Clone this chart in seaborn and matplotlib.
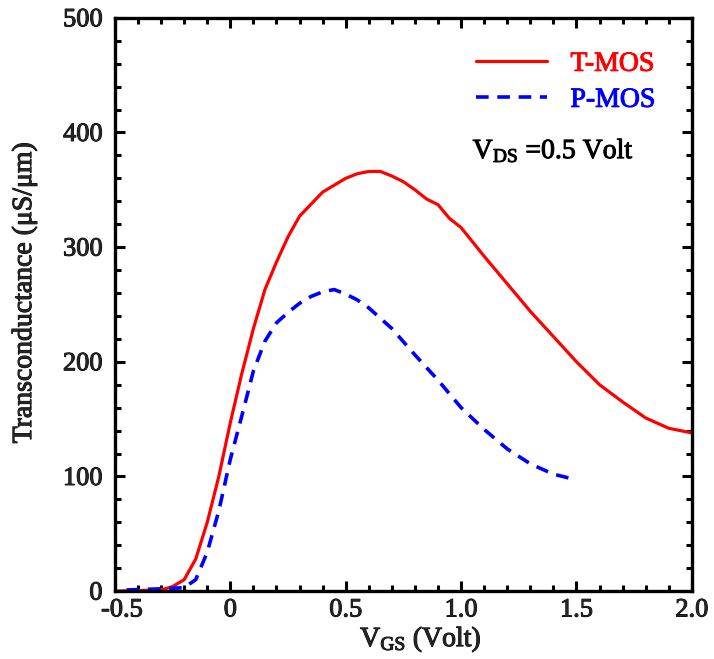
import matplotlib
matplotlib.use("Agg")
from matplotlib import pyplot as plt
from matplotlib import patheffects as pe
from matplotlib import transforms as mtransforms
from matplotlib.ticker import MultipleLocator, FixedLocator, FixedFormatter
import seaborn as sns
import pandas as pd

# V_GS (Volt) and transconductance (uS/um)
tmos_vgs = [-0.5, -0.3, -0.25, -0.2, -0.15, -0.1, -0.05, 0.0, 0.05, 0.1, 0.15, 0.2, 0.25, 0.3,
            0.4, 0.5, 0.55, 0.6, 0.65, 0.7, 0.75, 0.8, 0.85, 0.9, 0.95, 1.0, 1.1, 1.2, 1.3,
            1.4, 1.5, 1.6, 1.7, 1.8, 1.9, 2.0]
tmos_gm = [0, 1, 4, 10, 28, 60, 100, 147, 190, 229, 263, 287, 309, 327,
           348, 360, 364, 366, 366, 362, 357, 350, 342, 337, 325, 317, 292, 268, 244,
           222, 200, 180, 165, 151, 142, 138]

pmos_vgs = [-0.45, -0.3, -0.2, -0.15, -0.1, -0.05, 0.0, 0.05, 0.1, 0.15, 0.2, 0.25, 0.3, 0.35,
            0.4, 0.45, 0.5, 0.55, 0.6, 0.7, 0.8, 0.9, 1.0, 1.1, 1.2, 1.3, 1.4, 1.5]
pmos_gm = [1, 2, 3, 10, 34, 70, 115, 153, 192, 218, 234, 243, 251, 257,
           261, 263, 259, 254, 247, 229, 206, 184, 160, 141, 124, 111, 102, 97]

x_ticks = [-0.5, 0, 0.5, 1.0, 1.5, 2.0]
x_tick_labels = ['-0.5', '0', '0.5', '1.0', '1.5', '2.0']
y_ticks = [0, 100, 200, 300, 400, 500]

sns.set_style("ticks")
plt.rcParams['font.family'] = ['Liberation Serif', 'DejaVu Serif']
plt.rcParams['mathtext.fontset'] = 'custom'
plt.rcParams['mathtext.rm'] = 'Liberation Serif'
plt.rcParams['mathtext.it'] = 'Liberation Serif'
plt.rcParams['mathtext.bf'] = 'Liberation Serif:bold'

# slightly heavier strokes on the text, like the original
heavy = [pe.withStroke(linewidth=0.7, foreground='black')]

df_t = pd.DataFrame({'vgs': tmos_vgs, 'gm': tmos_gm})
df_p = pd.DataFrame({'vgs': pmos_vgs, 'gm': pmos_gm})

fig = plt.figure(figsize=(7.14, 6.59), dpi=100)
ax = fig.add_axes([0.161, 0.103, 0.808, 0.870])

sns.lineplot(data=df_t, x='vgs', y='gm', ax=ax, color='#ff0000', lw=2.3, label='T-MOS')
sns.lineplot(data=df_p, x='vgs', y='gm', ax=ax, color='#0000ff', lw=2.6, label='P-MOS')
ax.lines[1].set_dashes([3.5, 2.4])

ax.set_xlim(-0.5, 2.0)
ax.set_ylim(0, 500)
ax.xaxis.set_major_locator(FixedLocator(x_ticks))
ax.xaxis.set_major_formatter(FixedFormatter(x_tick_labels))
ax.xaxis.set_minor_locator(MultipleLocator(0.1))
ax.yaxis.set_major_locator(FixedLocator(y_ticks))
ax.yaxis.set_minor_locator(MultipleLocator(20))

ax.tick_params(which='both', direction='in', top=True, right=True, width=2.2, color='black')
ax.tick_params(which='major', length=7, labelsize=19)
ax.tick_params(axis='y', which='major', pad=9)
ax.tick_params(axis='x', which='major', pad=6)
ax.tick_params(which='minor', length=4)
for s in ax.spines.values():
    s.set_linewidth(2.4)
    s.set_color('black')
for lab in ax.get_xticklabels() + ax.get_yticklabels():
    lab.set_path_effects(heavy)

# the "-0.5" label sits a little right of its tick in the original
first = ax.get_xticklabels()[0]
first.set_transform(first.get_transform() + mtransforms.ScaledTranslation(5 / 72, 0, fig.dpi_scale_trans))

ax.set_xlabel(r'$\mathrm{V_{GS}}$ (Volt)', fontsize=20, path_effects=heavy)
ax.xaxis.set_label_coords(0.53, -0.058, transform=ax.transAxes)
ax.xaxis.label.set_va('top')
ax.set_ylabel('Transconductance (μS/μm)', fontsize=20, path_effects=heavy)
ax.yaxis.set_label_coords(-0.135, 0.52, transform=ax.transAxes)

leg = ax.legend(loc='upper right', bbox_to_anchor=(0.98, 0.985), frameon=False, fontsize=20,
                handlelength=2.55, handletextpad=0.85, labelspacing=0.38, labelcolor='linecolor')
for t, c in zip(leg.get_texts(), ['#ff0000', '#0000ff']):
    t.set_path_effects([pe.withStroke(linewidth=0.7, foreground=c)])

ax.text(0.62, 0.755, r'$\mathrm{V_{DS}}$ =0.5 Volt', transform=ax.transAxes,
        fontsize=20, color='black', path_effects=heavy)

fig.savefig('out.png', dpi=100)
